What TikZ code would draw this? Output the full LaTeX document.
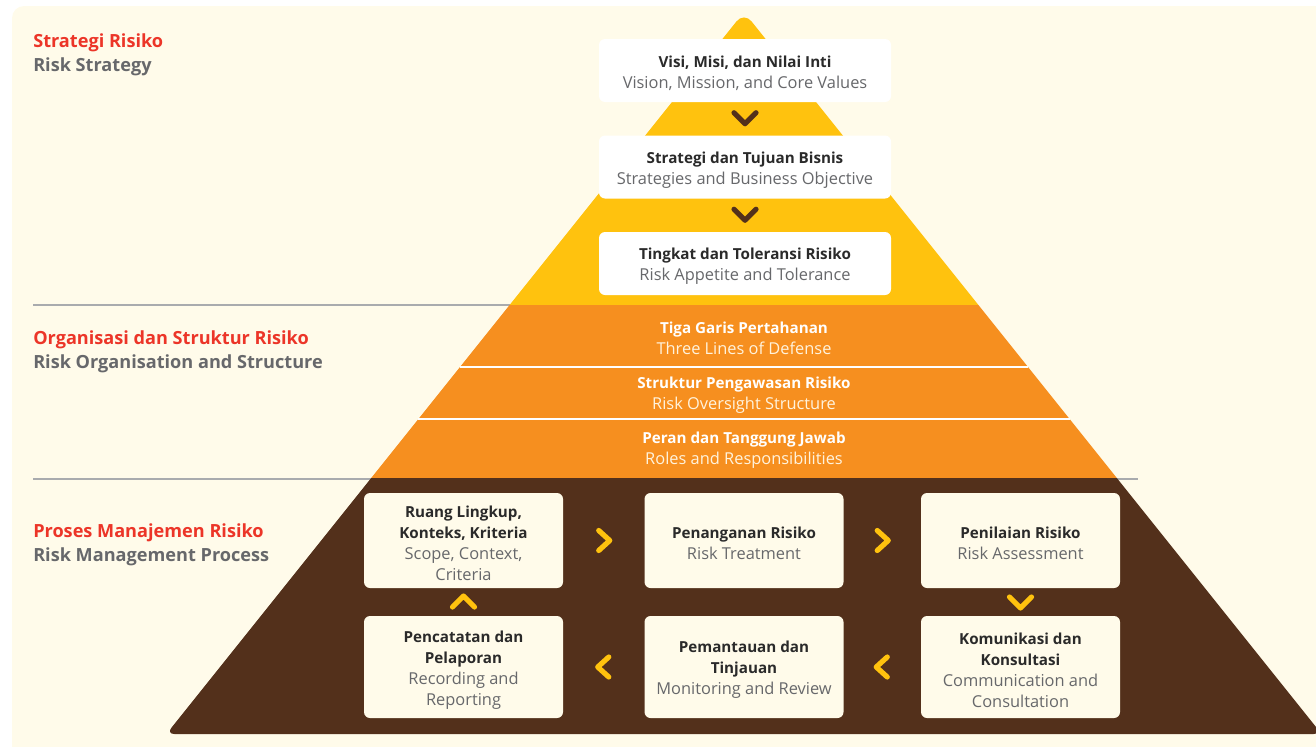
\documentclass[tikz,border=0pt]{standalone}
\usepackage{fontspec}
\setmainfont{Open Sans}
\usetikzlibrary{calc}
\definecolor{cream}{HTML}{FFFBEA}
\definecolor{pyell}{HTML}{FFC20E}
\definecolor{porange}{HTML}{F68F1F}
\definecolor{pbrown}{HTML}{53301B}
\definecolor{tred}{HTML}{EC3528}
\definecolor{tgray}{HTML}{67686B}
\definecolor{tdark}{HTML}{2A2A2A}
\definecolor{sepgray}{HTML}{A9ABAE}
\definecolor{lightline}{HTML}{FFF3DD}
\newcommand\bt[1]{{\fontsize{11.4}{15.75}\selectfont\bfseries #1}}
\newcommand\ft[1]{\rule{0pt}{13pt}\bt{#1}}
\newcommand\gt[1]{{\fontsize{12.3}{15.75}\selectfont\color{tgray}#1}}
\newcommand\lt[1]{{\fontsize{12.3}{15.75}\selectfont\color{lightline}#1}}
\begin{document}
\begin{tikzpicture}[x=0.75pt,y=-0.75pt,
  boxfont/.style={font=\fontsize{12}{15.75}\selectfont},
  topbox/.style={boxfont, fill=white, rounded corners=4.5pt, minimum width=219pt, minimum height=47.25pt, inner sep=0pt, align=center, text=tdark},
  procbox/.style={boxfont, fill=cream, rounded corners=4.5pt, minimum width=149.25pt, inner sep=0pt, align=center, text=tdark},
  bandtext/.style={boxfont, align=center, text=white, inner sep=0pt},
  sidelabel/.style={font=\fontsize{13.6}{18}\selectfont\bfseries, anchor=base west, inner sep=0pt},
  chev/.style={line width=3.9pt, line cap=round, line join=round},
  sep/.style={draw=sepgray, line width=0.8pt}
]
\useasboundingbox (0,0) rectangle (1316,746);
% background
\fill[cream, rounded corners=9pt] (12,6) rectangle (1340,760);

% separator lines
\coordinate (s1a) at (33,305);
\coordinate (s1b) at (515,305);
\coordinate (s2a) at (33,479);
\coordinate (s2b) at (1138,479);
\draw[sep] (s1a) -- (s1b);
\draw[sep] (s2a) -- (s2b);

% pyramid
\fill[pyell] (509.6,305) [rounded corners=9pt] -- (744,12) [sharp corners] -- (978.4,305) -- cycle;
\fill[porange] (509.6,305) -- (978.4,305) -- (1116.8,478) -- (371.2,478) -- cycle;
\fill[pbrown] (371.2,478) -- (1116.8,478) [rounded corners=6pt] -- (1321.6,734) -- (166.4,734) [sharp corners] -- cycle;
\draw[white, line width=0.9pt] (460,367) -- (1028,367);
\draw[white, line width=0.9pt] (418,419) -- (1070,419);

% side labels
\node[sidelabel, text=tred] (l1a) at (33,47) {Strategi Risiko};
\node[sidelabel, text=tgray] (l1b) at (33,71) {Risk Strategy};
\node[sidelabel, text=tred] (l2a) at (33,344) {Organisasi dan Struktur Risiko};
\node[sidelabel, text=tgray] (l2b) at (33,368) {Risk Organisation and Structure};
\node[sidelabel, text=tred] (l3a) at (33,537) {Proses Manajemen Risiko};
\node[sidelabel, text=tgray] (l3b) at (33,561) {Risk Management Process};

% top boxes
\node[topbox] (t1) at (745,70.5) {\ft{Visi, Misi, dan Nilai Inti}\\\gt{Vision, Mission, and Core Values}};
\node[topbox] (t2) at (745,167) {\ft{Strategi dan Tujuan Bisnis}\\\gt{Strategies and Business Objective}};
\node[topbox] (t3) at (745,263.5) {\ft{Tingkat dan Toleransi Risiko}\\\gt{Risk Appetite and Tolerance}};

\coordinate (c12) at ($(t1.south)!0.5!(t2.north)$);
\coordinate (c23) at ($(t2.south)!0.5!(t3.north)$);
\draw[chev, pbrown, shift={(c12)}] (-11,-6) -- (0,5) -- (11,-6);
\draw[chev, pbrown, shift={(c23)}] (-11,-6) -- (0,5) -- (11,-6);

% orange bands
\node[bandtext] (o1) at (744,338.5) {\bt{Tiga Garis Pertahanan}\\\lt{Three Lines of Defense}};
\node[bandtext] (o2) at (744,395) {\bt{Struktur Pengawasan Risiko}\\\lt{Risk Oversight Structure}};
\node[bandtext] (o3) at (744,450.5) {\bt{Peran dan Tanggung Jawab}\\\lt{Roles and Responsibilities}};

% process boxes
\node[procbox, minimum height=71.25pt] (pa) at (463.5,540.5) {\ft{Ruang Lingkup,}\\\bt{Konteks, Kriteria}\\\gt{Scope, Context,}\\\gt{Criteria}};
\node[procbox, minimum height=71.25pt] (pb) at (744,540.5) {\ft{Penanganan Risiko}\\\gt{Risk Treatment}};
\node[procbox, minimum height=71.25pt] (pc) at (1020.5,540.5) {\ft{Penilaian Risiko}\\\gt{Risk Assessment}};
\node[procbox, minimum height=76.5pt] (pd) at (463.5,667) {\ft{Pencatatan dan}\\\bt{Pelaporan}\\\gt{Recording and}\\\gt{Reporting}};
\node[procbox, minimum height=76.5pt] (pe) at (744,667) {\ft{Pemantauan dan}\\\bt{Tinjauan}\\\gt{Monitoring and Review}};
\node[procbox, minimum height=76.5pt] (pf) at (1020.5,667) {\ft{Komunikasi dan}\\\bt{Konsultasi}\\\gt{Communication and}\\\gt{Consultation}};

\coordinate (cab) at ($(pa.east)!0.5!(pb.west)$);
\coordinate (cbc) at ($(pb.east)!0.5!(pc.west)$);
\coordinate (ccf) at ($(pc.south)!0.5!(pf.north)$);
\coordinate (cfe) at ($(pf.west)!0.5!(pe.east)$);
\coordinate (ced) at ($(pe.west)!0.5!(pd.east)$);
\coordinate (cda) at ($(pd.north)!0.5!(pa.south)$);
\draw[chev, pyell, shift={(cab)}] (-5,-10) -- (6,0) -- (-5,10);
\draw[chev, pyell, shift={(cbc)}] (-5,-10) -- (6,0) -- (-5,10);
\draw[chev, pyell, shift={(ccf)}] (-11,-5) -- (0,6) -- (11,-5);
\draw[chev, pyell, shift={(cfe)}] (5,-10) -- (-6,0) -- (5,10);
\draw[chev, pyell, shift={(ced)}] (5,-10) -- (-6,0) -- (5,10);
\draw[chev, pyell, shift={(cda)}] (-11,5) -- (0,-6) -- (11,5);
\end{tikzpicture}
\end{document}
